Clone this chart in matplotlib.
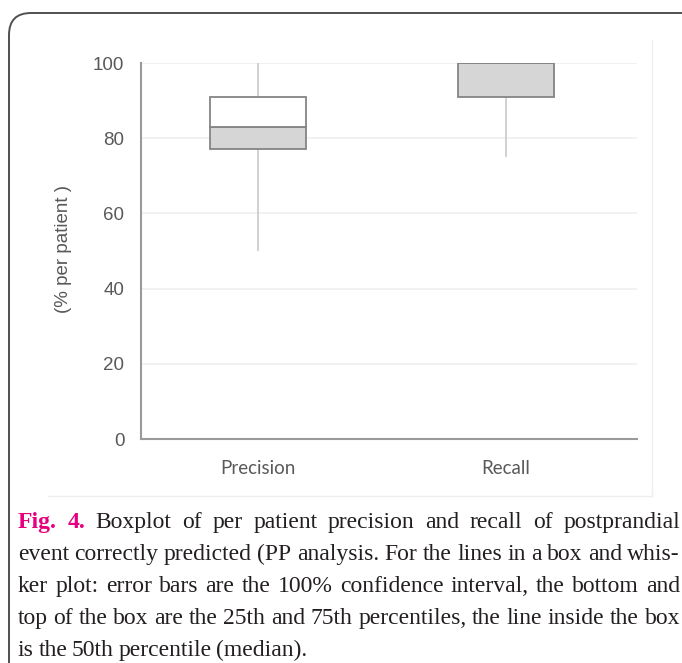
import matplotlib
matplotlib.use("Agg")
import matplotlib.pyplot as plt
from matplotlib.patches import FancyBboxPatch
from matplotlib.lines import Line2D

# box plot summary values (% per patient)
categories = ["Precision", "Recall"]
whisker_low = [50, 75]
q1 = [77, 91]
median = [83, 100]
q3 = [91, 100]
whisker_high = [100, 100]
y_ticks = [0, 20, 40, 60, 80, 100]

caption_lines = [
    "Boxplot of per patient precision and recall of postprandial",
    "event correctly predicted (PP analysis. For the lines in a box and whis-",
    "ker plot: error bars are the 100% confidence interval, the bottom and",
    "top of the box are the 25th and 75th percentiles, the line inside the box",
    "is the 50th percentile (median).",
]

W, H = 682, 663
fig = plt.figure(figsize=(W / 100, H / 100), dpi=100)
fig.patch.set_facecolor("white")

ax = fig.add_axes([141 / W, 1 - 439 / H, 496 / W, 376 / H])
x = list(range(len(categories)))
bw = 0.385

# whiskers
ax.vlines(x, whisker_low, q1, color="#c9c9c9", lw=1.2, zorder=1)
ax.vlines(x, q3, whisker_high, color="#c9c9c9", lw=1.2, zorder=1)
# lower half (q1 -> median) gray, upper half (median -> q3) white
lower = [m - a for m, a in zip(median, q1)]
upper = [b - m for b, m in zip(q3, median)]
ax.bar(x, lower, bottom=q1, width=bw, color="#d6d6d6", edgecolor="#858585", lw=1.3, zorder=3)
ax.bar(x, upper, bottom=median, width=bw, color="white", edgecolor="#858585", lw=1.3, zorder=3)

ax.set_xlim(-0.472, 1.528)
ax.set_ylim(0, 100)
ax.set_yticks(y_ticks)
ax.set_xticks(x)
ax.set_xticklabels(categories, fontfamily="Lato", fontsize=13.5, color="#595959")
ax.tick_params(axis="y", length=0, pad=12, labelsize=13.5, labelcolor="#595959")
ax.tick_params(axis="x", length=0, pad=15)
for lab in ax.get_yticklabels():
    lab.set_fontfamily("Liberation Sans")
for t in y_ticks[1:]:
    ax.axhline(t, color="#efefef", lw=1.2, zorder=0)
for s in ["top", "right"]:
    ax.spines[s].set_visible(False)
for s in ["left", "bottom"]:
    ax.spines[s].set_color("#9a9a9a")
    ax.spines[s].set_linewidth(1.5)

fig.text(63 / W, 1 - 249 / H, "(% per patient )", rotation=90, ha="center", va="center",
         fontsize=13.5, color="#595959", family="Liberation Sans")

# faint border of the chart image
fig.add_artist(Line2D([652 / W, 652 / W], [1 - 40 / H, 1 - 496 / H], color="#eeeeee", lw=1))
fig.add_artist(Line2D([48 / W, 652 / W], [1 - 496 / H, 1 - 496 / H], color="#eeeeee", lw=1))

# rounded outer frame (right and bottom edges lie outside the picture)
frame = FancyBboxPatch((9, -60), 720, H - 13 + 60, boxstyle="round,pad=0,rounding_size=22",
                       transform=None, fill=False, edgecolor="#505050", lw=1.4)
fig.add_artist(frame)

# justified caption
fig.canvas.draw()
renderer = fig.canvas.get_renderer()
fs = 17
cap_font = dict(family="Liberation Serif", fontsize=fs, color="#231f20")
fig_font = dict(family="Liberation Serif", fontsize=fs, color="#e6007e", weight="bold")
left, right = 18, 680
baselines = [528, 560, 592, 624, 656]


def width_of(t):
    return t.get_window_extent(renderer).width


for i, line in enumerate(caption_lines):
    items = []
    if i == 0:
        items += [("Fig.", fig_font), ("4.", fig_font)]
    items += [(w, cap_font) for w in line.split()]
    y = 1 - baselines[i] / H
    texts = [fig.text(0, y, w, va="baseline", ha="left", **kw) for w, kw in items]
    widths = [width_of(t) for t in texts]
    if i < len(caption_lines) - 1:
        gap = (right - left - sum(widths)) / (len(texts) - 1)
    else:
        gap = 4.5
    xpos = left
    for t, w in zip(texts, widths):
        t.set_x(xpos / W)
        xpos += w + gap

fig.savefig("out.png", dpi=100)
